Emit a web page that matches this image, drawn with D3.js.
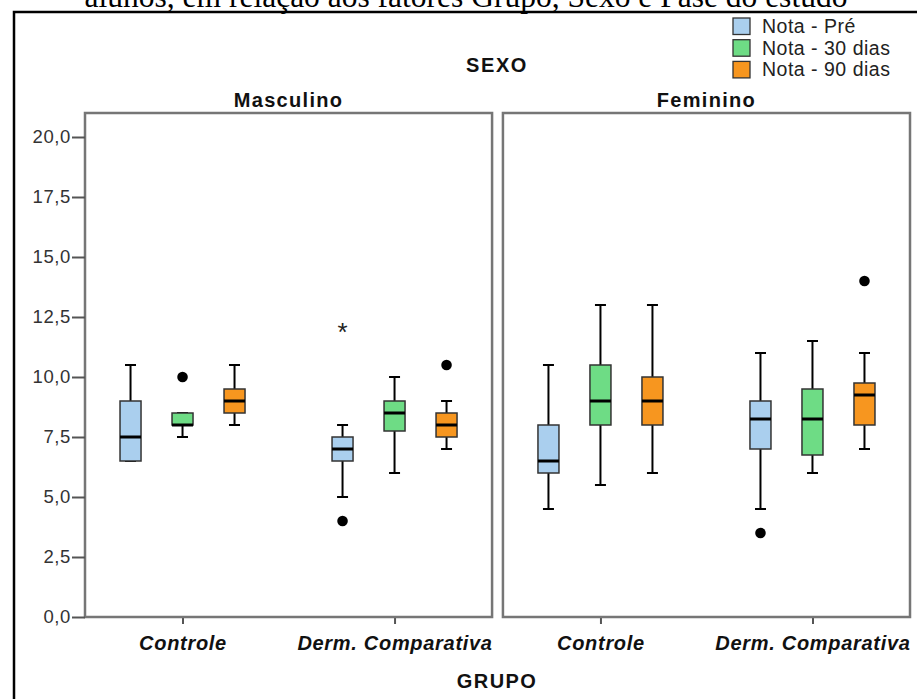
<!DOCTYPE html>
<html>
<head>
<meta charset="utf-8">
<script src="https://cdn.jsdelivr.net/npm/d3@7"></script>
<style>
  body { margin: 0; background: #fff; }
  svg { display: block; }
  .lbl { font-family: "Liberation Sans", Arial, sans-serif; }
</style>
</head>
<body>
<script>
// categories
var sexes = ["Masculino", "Feminino"];
var groups = ["Controle", "Derm. Comparativa"];
var series = ["Nota - Pré", "Nota - 30 dias", "Nota - 90 dias"];
var colors = ["#aacfee", "#6edc85", "#f7961f"];
var yTicks = [0, 2.5, 5, 7.5, 10, 12.5, 15, 17.5, 20];

// box stats per series: [low whisker, q1, median, q3, high whisker]
var mascControle = [[6.5, 6.5, 7.5, 9.0, 10.5], [7.5, 8.0, 8.0, 8.5, 8.5], [8.0, 8.5, 9.0, 9.5, 10.5]];
var mascDerm     = [[5.0, 6.5, 7.0, 7.5, 8.0], [6.0, 7.75, 8.5, 9.0, 10.0], [7.0, 7.5, 8.0, 8.5, 9.0]];
var femControle  = [[4.5, 6.0, 6.5, 8.0, 10.5], [5.5, 8.0, 9.0, 10.5, 13.0], [6.0, 8.0, 9.0, 10.0, 13.0]];
var femDerm      = [[4.5, 7.0, 8.25, 9.0, 11.0], [6.0, 6.75, 8.25, 9.5, 11.5], [7.0, 8.0, 9.25, 9.75, 11.0]];

// outliers: sex, group, series index, value, kind
var outliers = [
  ["Masculino", "Controle", 1, 10.0, "o"],
  ["Masculino", "Derm. Comparativa", 0, 12.0, "*"],
  ["Masculino", "Derm. Comparativa", 0, 4.0, "o"],
  ["Masculino", "Derm. Comparativa", 2, 10.5, "o"],
  ["Feminino", "Derm. Comparativa", 0, 3.5, "o"],
  ["Feminino", "Derm. Comparativa", 2, 14.0, "o"]
];

var stats = {
  "Masculino": {"Controle": mascControle, "Derm. Comparativa": mascDerm},
  "Feminino": {"Controle": femControle, "Derm. Comparativa": femDerm}
};

var boxes = [];
sexes.forEach(function (s) {
  groups.forEach(function (g) {
    stats[s][g].forEach(function (v, i) {
      boxes.push({sex: s, group: g, si: i, lo: v[0], q1: v[1], med: v[2], q3: v[3], hi: v[4]});
    });
  });
});

var svg = d3.select("body").append("svg")
  .attr("width", 917)
  .attr("height", 699);

// caption above the frame, cut by the page top
svg.append("text")
  .attr("x", 466).attr("y", 7)
  .attr("text-anchor", "middle")
  .style("font-family", "'Liberation Serif', 'Times New Roman', serif")
  .style("font-size", "31.5px")
  .text("alunos, em relação aos fatores Grupo, Sexo e Fase do estudo");

svg.append("rect")
  .attr("x", 14).attr("y", 12)
  .attr("width", 1000).attr("height", 1000)
  .attr("fill", "none")
  .attr("stroke", "#000")
  .attr("stroke-width", 2.5);

var y = d3.scaleLinear().domain([0, 21]).range([617, 113]);
var xSex = d3.scaleBand().domain(sexes).range([85, 910]).paddingInner(0.026);
var xGroup = d3.scalePoint().domain(groups).range([0, xSex.bandwidth()]).padding(0.46);
var xSeries = d3.scalePoint().domain(d3.range(series.length)).range([-52, 52]);
var boxW = 21, capW = 11;

// panels
sexes.forEach(function (s) {
  var x0 = xSex(s);
  var panel = svg.append("g").attr("transform", "translate(" + x0 + ",0)");

  panel.append("text")
    .attr("class", "lbl")
    .attr("x", xSex.bandwidth() / 2).attr("y", 107)
    .attr("text-anchor", "middle")
    .style("font-size", "20px").style("font-weight", "bold")
    .style("letter-spacing", "1.3px")
    .attr("fill", "#111")
    .text(s);

  var xAxis = panel.append("g")
    .attr("transform", "translate(0,617)")
    .call(d3.axisBottom(xGroup).tickSize(7).tickPadding(12));
  xAxis.select(".domain").remove();
  xAxis.selectAll("line").attr("stroke", "#555").attr("stroke-width", 2);
  xAxis.selectAll("text")
    .attr("class", "lbl")
    .style("font-size", "20px").style("font-weight", "bold").style("font-style", "italic")
    .style("letter-spacing", "0.7px")
    .attr("fill", "#111");

  panel.append("rect")
    .attr("x", 0).attr("y", y(21))
    .attr("width", xSex.bandwidth()).attr("height", y(0) - y(21))
    .attr("fill", "none")
    .attr("stroke", "#767676")
    .attr("stroke-width", 2.5);
});

// y axis
var yAxis = svg.append("g")
  .attr("transform", "translate(85,0)")
  .call(d3.axisLeft(y).tickValues(yTicks).tickSize(13).tickPadding(1)
    .tickFormat(function (d) { return d3.format(".1f")(d).replace(".", ","); }));
yAxis.select(".domain").remove();
yAxis.selectAll("line").attr("stroke", "#555").attr("stroke-width", 2);
yAxis.selectAll("text")
  .attr("class", "lbl")
  .style("font-size", "18.5px")
  .style("letter-spacing", "0.6px")
  .attr("fill", "#333");

function cx(d) { return xSex(d.sex) + xGroup(d.group) + xSeries(d.si); }

var bx = svg.append("g").selectAll("g").data(boxes).enter().append("g");

bx.append("line")
  .attr("x1", cx).attr("x2", cx)
  .attr("y1", function (d) { return y(d.hi); })
  .attr("y2", function (d) { return y(d.lo); })
  .attr("stroke", "#000").attr("stroke-width", 2);

bx.selectAll(".cap").data(function (d) { return [[d, d.hi], [d, d.lo]]; }).enter().append("line")
  .attr("x1", function (p) { return cx(p[0]) - capW / 2; })
  .attr("x2", function (p) { return cx(p[0]) + capW / 2; })
  .attr("y1", function (p) { return y(p[1]); })
  .attr("y2", function (p) { return y(p[1]); })
  .attr("stroke", "#000").attr("stroke-width", 2);

bx.append("rect")
  .attr("x", function (d) { return cx(d) - boxW / 2; })
  .attr("y", function (d) { return y(d.q3); })
  .attr("width", boxW)
  .attr("height", function (d) { return y(d.q1) - y(d.q3); })
  .attr("fill", function (d) { return colors[d.si]; })
  .attr("stroke", "#333").attr("stroke-width", 1.5);

bx.append("line")
  .attr("x1", function (d) { return cx(d) - boxW / 2; })
  .attr("x2", function (d) { return cx(d) + boxW / 2; })
  .attr("y1", function (d) { return y(d.med); })
  .attr("y2", function (d) { return y(d.med); })
  .attr("stroke", "#000").attr("stroke-width", 3);

// outliers
var oData = outliers.map(function (o) { return {sex: o[0], group: o[1], si: o[2], v: o[3], kind: o[4]}; });
svg.append("g").selectAll("circle")
  .data(oData.filter(function (d) { return d.kind === "o"; }))
  .enter().append("circle")
  .attr("cx", cx)
  .attr("cy", function (d) { return y(d.v); })
  .attr("r", 5.3)
  .attr("fill", "#000");
svg.append("g").selectAll("text")
  .data(oData.filter(function (d) { return d.kind === "*"; }))
  .enter().append("text")
  .attr("class", "lbl")
  .attr("x", cx)
  .attr("y", function (d) { return y(d.v) + 12; })
  .attr("text-anchor", "middle")
  .style("font-size", "26px")
  .attr("fill", "#222")
  .text("*");

// titles
svg.append("text")
  .attr("class", "lbl")
  .attr("x", 497).attr("y", 72)
  .attr("text-anchor", "middle")
  .style("font-size", "20px").style("font-weight", "bold")
  .style("letter-spacing", "1.6px")
  .attr("fill", "#111")
  .text("SEXO");

svg.append("text")
  .attr("class", "lbl")
  .attr("x", 497).attr("y", 688)
  .attr("text-anchor", "middle")
  .style("font-size", "20px").style("font-weight", "bold")
  .style("letter-spacing", "1.4px")
  .attr("fill", "#111")
  .text("GRUPO");

// legend
var leg = svg.append("g").selectAll("g").data(series).enter().append("g")
  .attr("transform", function (d, i) { return "translate(733," + (18 + i * 21.7) + ")"; });
leg.append("rect")
  .attr("width", 17).attr("height", 16.5)
  .attr("fill", function (d, i) { return colors[i]; })
  .attr("stroke", "#333").attr("stroke-width", 1.3);
leg.append("text")
  .attr("class", "lbl")
  .attr("x", 29).attr("y", 15)
  .style("font-size", "19.5px")
  .style("letter-spacing", "0.5px")
  .attr("fill", "#222")
  .text(function (d) { return d; });
</script>
</body>
</html>
